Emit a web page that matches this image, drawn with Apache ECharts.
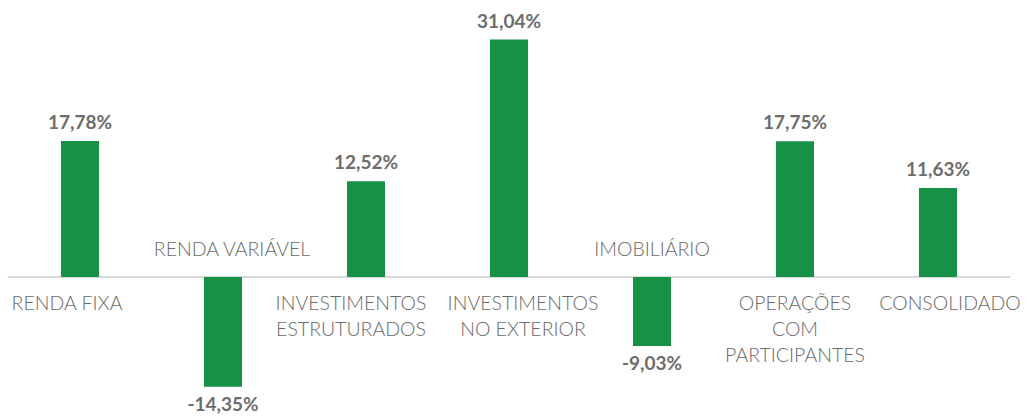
<!DOCTYPE html>
<html>
<head>
<meta charset="utf-8">
<script src="https://cdn.jsdelivr.net/npm/echarts@6/dist/echarts.min.js"></script>
<style>html,body{margin:0;padding:0;background:#fff}#c{width:1032px;height:416px}</style>
</head>
<body>
<div id="c"></div>
<script>
const categories = ['RENDA FIXA', 'RENDA VARIÁVEL', 'INVESTIMENTOS\nESTRUTURADOS', 'INVESTIMENTOS\nNO EXTERIOR', 'IMOBILIÁRIO', 'OPERAÇÕES\nCOM\nPARTICIPANTES', 'CONSOLIDADO'];
const values = [17.78, -14.35, 12.52, 31.04, -9.03, 17.75, 11.63];
const yMin = -15;
const yMax = 35;

const fmt = v => v.toFixed(2).replace('.', ',') + '%';
const catFont = { fontFamily: 'Lato', fontWeight: 300, fontSize: 19.5, color: '#6a6a6a', lineHeight: 26 };
// label nudges (style only): token padding shifts the centred text left/right
const nudge = ['l26', 'r18', 'l30', 'r28', 'n', 'n', 'r24'];
const rich = {
  n: Object.assign({}, catFont),
  l26: Object.assign({ padding: [0, 26, 0, 0] }, catFont),
  l30: Object.assign({ padding: [0, 30, 0, 0] }, catFont),
  r18: Object.assign({ padding: [0, 0, 0, 18] }, catFont),
  r24: Object.assign({ padding: [0, 0, 0, 24] }, catFont),
  r28: Object.assign({ padding: [0, 0, 0, 28] }, catFont)
};
const wrap = (v, i) => v.split('\n').map(s => '{' + nudge[i] + '|' + s + '}').join('\n');

const chart = echarts.init(document.getElementById('c'), null, { renderer: 'svg' });
const option = {
  animation: false,
  grid: { left: 8.5, right: 22.5, top: 9.25, bottom: 24.25, containLabel: false, outerBoundsMode: 'none' },
  xAxis: [{
    type: 'category', data: categories, position: 'bottom',
    axisLine: { show: true, onZero: false, lineStyle: { color: '#d9d9d9', width: 2 } },
    axisTick: { show: false },
    axisLabel: Object.assign({ interval: 0, margin: 12, rich: rich, formatter: (v, i) => values[i] >= 0 ? wrap(v, i) : '' }, catFont)
  }, {
    type: 'category', data: categories, position: 'bottom',
    axisLine: { show: false, onZero: false },
    axisTick: { show: false },
    axisLabel: Object.assign({ interval: 0, inside: true, margin: 16, rich: rich, formatter: (v, i) => values[i] < 0 ? wrap(v, i) : '' }, catFont)
  }],
  yAxis: { type: 'value', min: yMin, max: yMax, show: false, splitLine: { show: false } },
  series: [{
    type: 'bar', xAxisIndex: 0, yAxisIndex: 0, barWidth: 38,
    itemStyle: { color: '#169145' },
    data: values.map(v => ({
      value: v,
      label: { show: true, position: v >= 0 ? 'top' : 'bottom', distance: v >= 0 ? 10 : 7, formatter: fmt(v),
        fontFamily: 'Lato', fontWeight: 'bold', fontSize: 19, color: '#6d6d6d' }
    }))
  }]
};
chart.setOption(option);
// move both category axes up to the value axis' zero line
const zeroY = chart.convertToPixel({ yAxisIndex: 0 }, 0);
const bottomY = chart.convertToPixel({ yAxisIndex: 0 }, yMin);
const off = zeroY - bottomY;
chart.setOption({ xAxis: [{ offset: off }, { offset: off }] });
</script>
</body>
</html>
